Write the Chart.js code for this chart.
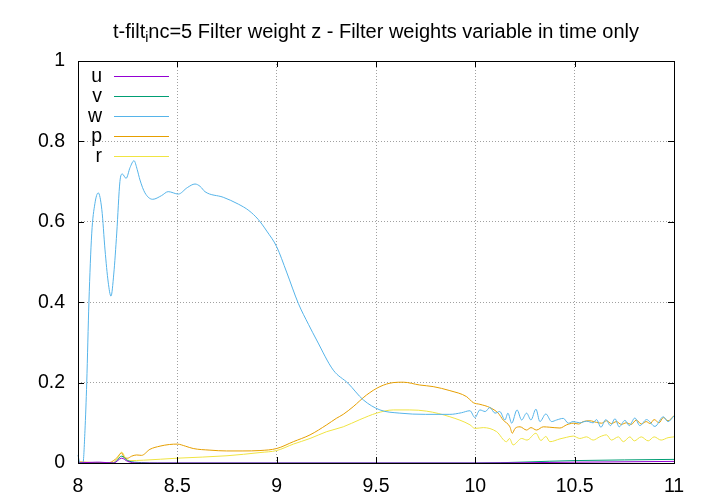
<!DOCTYPE html>
<html>
<head>
<meta charset="utf-8">
<script src="https://cdn.jsdelivr.net/npm/chart.js@4/dist/chart.umd.min.js"></script>
<style>
  html, body { margin: 0; padding: 0; background: #fff; }
  #wrap { width: 720px; height: 504px; }
</style>
</head>
<body>
<div id="wrap"><canvas id="c" width="720" height="504"></canvas></div>
<script>
// titre et étiquettes
const titleHead = 't-filt';
const titleSub = 'i';
const titleTail = 'nc=5 Filter weight z - Filter weights variable in time only';
const seriesNames = ['u', 'v', 'w', 'p', 'r'];
const xTicks = [8, 8.5, 9, 9.5, 10, 10.5, 11];
const yTicks = [0, 0.2, 0.4, 0.6, 0.8, 1];

// u
const uT = [8.0, 8.09, 8.11, 8.18, 8.22, 8.25, 8.3, 10.0, 10.5, 11.0];
const uV = [0.0, 0.002, 0.002, 0.0, 0.012, 0.004, 0.0, 0.0, 0.002, 0.004];
// v
const vT = [8.0, 8.18, 8.22, 8.25, 8.32, 8.4, 10.0, 10.5, 11.0];
const vV = [0.0, 0.0, 0.017, 0.006, 0.001, 0.0, 0.0, 0.006, 0.009];
// w
const wT = [8.0, 8.01, 8.025, 8.035, 8.044, 8.055, 8.069, 8.085, 8.102, 8.12, 8.136, 8.152, 8.166, 8.18, 8.195,
  8.211, 8.223, 8.242, 8.262, 8.282, 8.298, 8.312, 8.337, 8.376, 8.42, 8.454, 8.505, 8.55, 8.589, 8.615, 8.639,
  8.731, 8.807, 8.86, 8.907, 8.95, 9.0, 9.05, 9.109, 9.16, 9.201, 9.285, 9.36, 9.436, 9.52, 9.62, 9.75, 9.872,
  9.93, 9.973, 9.998, 10.023, 10.05, 10.073, 10.099, 10.123, 10.149, 10.164, 10.183, 10.21, 10.233, 10.258, 10.28,
  10.305, 10.325, 10.355, 10.384, 10.409, 10.443, 10.468, 10.492, 10.526, 10.56, 10.593, 10.61, 10.632, 10.657,
  10.68, 10.703, 10.724, 10.753, 10.775, 10.803, 10.828, 10.862, 10.904, 10.946, 10.97, 11.0];
const wV = [0.02, 0.0, 0.0, 0.08, 0.2, 0.40, 0.57, 0.645, 0.672, 0.63, 0.53, 0.45, 0.415, 0.47, 0.572,
  0.70, 0.719, 0.708, 0.735, 0.752, 0.73, 0.704, 0.672, 0.656, 0.665, 0.675, 0.669, 0.685, 0.694, 0.688, 0.675,
  0.661, 0.644, 0.628, 0.606, 0.577, 0.538, 0.475, 0.397, 0.345, 0.306, 0.231, 0.198, 0.157, 0.132, 0.124, 0.121, 0.121,
  0.125, 0.130, 0.113, 0.132, 0.128, 0.138, 0.124, 0.128, 0.107, 0.124, 0.099, 0.132, 0.107, 0.124, 0.107,
  0.134, 0.103, 0.122, 0.103, 0.107, 0.111, 0.099, 0.103, 0.100, 0.104, 0.100, 0.108, 0.089, 0.108,
  0.093, 0.110, 0.090, 0.106, 0.093, 0.112, 0.093, 0.108, 0.091, 0.115, 0.103, 0.117];
// p
const pT = [8.0, 8.15, 8.19, 8.22, 8.235, 8.25, 8.27, 8.295, 8.32, 8.362, 8.413, 8.46, 8.5, 8.54, 8.58, 8.664,
  8.748, 8.83, 8.916, 9.0, 9.084, 9.168, 9.252, 9.30, 9.335, 9.385, 9.452, 9.52, 9.587, 9.637, 9.72, 9.788,
  9.872, 9.956, 9.99, 10.023, 10.073, 10.115, 10.14, 10.174, 10.186, 10.2, 10.225, 10.258, 10.28, 10.308,
  10.342, 10.375, 10.426, 10.46, 10.493, 10.52, 10.543, 10.577, 10.61, 10.636, 10.66, 10.685, 10.71, 10.735,
  10.76, 10.785, 10.81, 10.835, 10.86, 10.88, 10.9, 10.925, 10.946, 10.97, 11.0];
const pV = [0.003, 0.0, 0.01, 0.025, 0.012, 0.012, 0.017, 0.02, 0.019, 0.034, 0.042, 0.046, 0.047, 0.042, 0.036, 0.032,
  0.030, 0.030, 0.031, 0.036, 0.053, 0.070, 0.095, 0.111, 0.121, 0.14, 0.169, 0.19, 0.2, 0.201, 0.194, 0.19,
  0.18, 0.165, 0.15, 0.146, 0.138, 0.124, 0.107, 0.09, 0.074, 0.086, 0.09, 0.082, 0.088, 0.082,
  0.09, 0.089, 0.087, 0.095, 0.099, 0.097, 0.103, 0.105, 0.101, 0.099, 0.105, 0.098, 0.103, 0.096,
  0.100, 0.096, 0.107, 0.097, 0.103, 0.098, 0.108, 0.100, 0.113, 0.105, 0.118];
// r
const rT = [8.0, 8.17, 8.2, 8.22, 8.24, 8.26, 8.33, 8.5, 8.75, 8.916, 9.0, 9.084, 9.168, 9.252, 9.335, 9.419,
  9.503, 9.587, 9.67, 9.755, 9.872, 9.973, 9.998, 10.04, 10.107, 10.157, 10.172, 10.19, 10.233, 10.26, 10.305,
  10.33, 10.355, 10.375, 10.426, 10.46, 10.493, 10.526, 10.56, 10.593, 10.626, 10.66, 10.685, 10.72, 10.745,
  10.778, 10.8, 10.835, 10.87, 10.9, 10.935, 10.97, 11.0];
const rV = [0.0, 0.0, 0.012, 0.027, 0.012, 0.006, 0.007, 0.012, 0.018, 0.026, 0.031, 0.047, 0.061, 0.078, 0.090, 0.108,
  0.124, 0.132, 0.132, 0.129, 0.115, 0.095, 0.086, 0.088, 0.078, 0.053, 0.061, 0.045, 0.061, 0.057, 0.074,
  0.056, 0.066, 0.053, 0.060, 0.064, 0.067, 0.061, 0.065, 0.057, 0.065, 0.070, 0.057, 0.065, 0.053,
  0.065, 0.055, 0.065, 0.055, 0.065, 0.057, 0.063, 0.065];

const colors = ['#9400d3', '#009e73', '#56b4e9', '#e69f00', '#f0e442'];
const FAMILY = '"Liberation Sans", Arial, sans-serif';
const FONT = '19.5px ' + FAMILY;
const TITLE_FONT = '20px ' + FAMILY;

function pts(t, v) {
  return t.map((x, i) => ({ x: x, y: v[i] }));
}
const allData = [pts(uT, uV), pts(vT, vV), pts(wT, wV), pts(pT, pV), pts(rT, rV)];

// cadre, petites graduations vers l'intérieur, titre et légende façon gnuplot
const gnuplotLook = {
  id: 'gnuplotLook',
  afterDatasetsDraw(chart) {
    const ctx = chart.ctx, a = chart.chartArea;
    const sx = chart.scales.x, sy = chart.scales.y;
    ctx.save();
    ctx.strokeStyle = '#000';
    ctx.lineWidth = 1;
    ctx.beginPath();
    xTicks.forEach(v => {
      const px = Math.round(sx.getPixelForValue(v)) + 0.5;
      ctx.moveTo(px, a.bottom); ctx.lineTo(px, a.bottom - 6);
      ctx.moveTo(px, a.top); ctx.lineTo(px, a.top + 6);
    });
    yTicks.forEach(v => {
      const py = Math.round(sy.getPixelForValue(v)) + 0.5;
      ctx.moveTo(a.left, py); ctx.lineTo(a.left + 6, py);
      ctx.moveTo(a.right, py); ctx.lineTo(a.right - 6, py);
    });
    ctx.stroke();
    ctx.strokeRect(Math.round(a.left) + 0.5, Math.round(a.top) + 0.5,
      Math.round(a.right - a.left), Math.round(a.bottom - a.top));
    ctx.restore();
  },
  afterDraw(chart) {
    const ctx = chart.ctx, a = chart.chartArea;
    ctx.save();
    // titre
    ctx.fillStyle = '#000';
    ctx.textBaseline = 'alphabetic';
    const subFont = '14px ' + FAMILY;
    ctx.font = TITLE_FONT;
    const w1 = ctx.measureText(titleHead).width;
    const w3 = ctx.measureText(titleTail).width;
    ctx.font = subFont;
    const w2 = ctx.measureText(titleSub).width;
    const x0 = (a.left + a.right) / 2 - (w1 + w2 + w3) / 2;
    const base = 38;
    ctx.textAlign = 'left';
    ctx.font = TITLE_FONT;
    ctx.fillText(titleHead, x0, base);
    ctx.font = subFont;
    ctx.fillText(titleSub, x0 + w1, base + 4);
    ctx.font = TITLE_FONT;
    ctx.fillText(titleTail, x0 + w1 + w2, base);
    // légende
    const rows = [76, 96, 116, 136, 156];
    ctx.font = FONT;
    ctx.textAlign = 'right';
    ctx.textBaseline = 'middle';
    seriesNames.forEach((name, i) => {
      ctx.fillStyle = '#000';
      ctx.fillText(name, 102, rows[i] + 1);
      ctx.strokeStyle = colors[i];
      ctx.lineWidth = 1;
      ctx.beginPath();
      ctx.moveTo(114, rows[i] + 0.5);
      ctx.lineTo(169, rows[i] + 0.5);
      ctx.stroke();
    });
    ctx.restore();
  }
};

const tickFont = { family: FAMILY, size: 19.5 };
const fmt = v => String(Math.round(v * 10) / 10);

new Chart(document.getElementById('c'), {
  type: 'line',
  data: {
    datasets: seriesNames.map((name, i) => ({
      label: name,
      data: allData[i],
      borderColor: colors[i],
      backgroundColor: colors[i],
      borderWidth: 1,
      pointRadius: 0,
      fill: false,
      cubicInterpolationMode: 'monotone',
      clip: 2
    }))
  },
  options: {
    responsive: false,
    animation: false,
    events: [],
    layout: { padding: { top: 61, right: 46, left: 0, bottom: 0 } },
    plugins: {
      legend: { display: false },
      title: { display: false },
      tooltip: { enabled: false }
    },
    scales: {
      x: {
        type: 'linear',
        min: 8,
        max: 11,
        afterBuildTicks: s => { s.ticks = xTicks.map(v => ({ value: v })); },
        afterFit: s => { s.height = 41; },
        ticks: { color: '#000', font: tickFont, padding: 12, maxRotation: 0, callback: fmt },
        grid: { color: '#a0a0a0', drawTicks: false, lineWidth: 1 },
        border: { display: false, dash: [1, 2] }
      },
      y: {
        type: 'linear',
        min: 0,
        max: 1,
        afterBuildTicks: s => { s.ticks = yTicks.map(v => ({ value: v })); },
        afterFit: s => { s.width = 78; },
        ticks: { color: '#000', font: tickFont, padding: 13, callback: fmt },
        grid: { color: '#a0a0a0', drawTicks: false, lineWidth: 1 },
        border: { display: false, dash: [1, 2] }
      }
    }
  },
  plugins: [gnuplotLook]
});
</script>
</body>
</html>
